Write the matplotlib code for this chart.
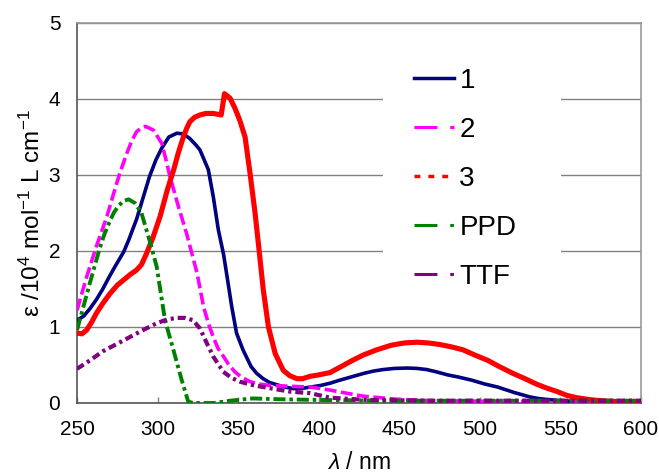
import matplotlib
matplotlib.use("Agg")
import matplotlib.pyplot as plt
from matplotlib.lines import Line2D

plt.rcParams['font.family'] = ['Liberation Sans', 'DejaVu Sans']
plt.rcParams['mathtext.fontset'] = 'custom'
plt.rcParams['mathtext.rm'] = 'Liberation Sans'
plt.rcParams['mathtext.it'] = 'Liberation Sans:italic'
plt.rcParams['mathtext.default'] = 'regular'

# ---- data ----
wl1 = [250, 254, 258, 262, 266, 270, 274, 279, 282, 287,
       291, 295, 299, 302.5, 307, 312, 316, 320, 324, 326.3,
       328.5, 331.5, 334.6, 337.7, 341, 343, 346, 349, 353, 358,
       361.5, 365.5, 369.5, 374, 379, 384, 389, 395, 401, 407,
       413, 418, 423, 428, 434, 440, 447, 455, 461, 467,
       473, 480, 487, 495, 503, 511, 516, 521, 526, 531,
       536, 540, 548, 555, 560, 580, 600]
eps1 = [1.09, 1.14, 1.24, 1.36, 1.50, 1.66, 1.81, 1.99, 2.14, 2.42,
        2.70, 2.98, 3.20, 3.35, 3.50, 3.55, 3.54, 3.48, 3.39, 3.33,
        3.22, 3.07, 2.71, 2.28, 1.95, 1.68, 1.27, 0.92, 0.70, 0.48,
        0.39, 0.32, 0.27, 0.24, 0.21, 0.19, 0.19, 0.21, 0.23, 0.26,
        0.30, 0.33, 0.36, 0.39, 0.42, 0.44, 0.455, 0.46, 0.455, 0.44,
        0.41, 0.37, 0.34, 0.30, 0.25, 0.21, 0.175, 0.14, 0.11, 0.08,
        0.06, 0.05, 0.035, 0.025, 0.02, 0.02, 0.02]

wl2 = [250, 256, 262, 268.5, 272.5, 276.5, 281, 284, 287, 290,
       292.5, 297.5, 302.5, 305, 307.7, 311, 313, 318, 321, 324.5,
       328.5, 331.5, 334.5, 337.5, 341, 344, 348, 352, 357.5, 363,
       370, 382, 395, 407, 417, 427.5, 448, 470, 520, 600]
eps2 = [1.22, 1.66, 2.06, 2.45, 2.74, 3.02, 3.29, 3.45, 3.57, 3.62,
        3.64, 3.59, 3.42, 3.22, 2.98, 2.73, 2.58, 2.23, 1.99, 1.71,
        1.27, 1.05, 0.87, 0.72, 0.61, 0.51, 0.41, 0.34, 0.28, 0.25,
        0.23, 0.22, 0.21, 0.17, 0.13, 0.09, 0.05, 0.03, 0.02, 0.02]

wl3 = [250, 253, 256, 259, 262, 266, 270.5, 275, 279, 283,
       287, 290, 293, 297, 301.5, 306, 310, 313, 316, 318,
       320, 323, 326.3, 330, 334.5, 339.5, 341.5, 345, 348, 351,
       354.3, 357.4, 360.5, 362.8, 365.6, 368.8, 373, 378, 382, 386.5,
       390, 394.5, 400, 407, 414, 420, 427.5, 436, 445, 453,
       461, 468, 475, 482, 489.5, 497, 505, 512, 520.5, 528,
       535, 541, 548, 554, 560, 568, 575, 585, 600]
eps3 = [0.92, 0.91, 0.96, 1.06, 1.18, 1.31, 1.44, 1.55, 1.62, 1.69,
        1.75, 1.82, 1.96, 2.17, 2.45, 2.80, 3.07, 3.30, 3.50, 3.61,
        3.70, 3.76, 3.79, 3.81, 3.81, 3.79, 4.07, 4.01, 3.88, 3.72,
        3.50, 3.02, 2.50, 2.05, 1.49, 1.00, 0.65, 0.43, 0.36, 0.32,
        0.32, 0.35, 0.37, 0.40, 0.48, 0.55, 0.63, 0.70, 0.76, 0.79,
        0.80, 0.79, 0.77, 0.74, 0.70, 0.63, 0.56, 0.48, 0.39, 0.32,
        0.25, 0.20, 0.15, 0.10, 0.07, 0.045, 0.03, 0.02, 0.02]

wl_ppd = [250, 254, 258, 264, 267, 270.5, 273, 276, 279, 282,
          286, 290, 295.3, 299.5, 304.6, 309.8, 315, 319, 322, 335,
          345, 359, 375, 400, 450, 600]
eps_ppd = [0.96, 1.27, 1.58, 2.03, 2.22, 2.40, 2.51, 2.60, 2.66, 2.68,
           2.63, 2.50, 2.12, 1.79, 1.09, 0.70, 0.30, 0.02, 0.0, 0.0,
           0.03, 0.06, 0.05, 0.04, 0.03, 0.03]

wl_ttf = [250, 258, 266, 275, 283, 291, 299.5, 306, 312, 317,
          322, 326.3, 330.5, 334.6, 340.8, 346, 351.2, 358, 365.6, 382,
          394.6, 407, 430, 470, 600]
eps_ttf = [0.45, 0.56, 0.68, 0.78, 0.87, 0.96, 1.05, 1.10, 1.12, 1.12,
           1.09, 0.98, 0.79, 0.61, 0.41, 0.33, 0.28, 0.24, 0.21, 0.15,
           0.13, 0.07, 0.04, 0.03, 0.03]

labels = ['1', '2', '3', 'PPD', 'TTF']
xticks = [250, 300, 350, 400, 450, 500, 550, 600]
yticks = [0, 1, 2, 3, 4, 5]

# ---- figure ----
fig = plt.figure(figsize=(6.59, 4.76), dpi=100)
ax = fig.add_axes([77/659, 73/476, 564/659, 380/476])

c1, c2, c3, c4, c5 = '#000080', '#FF00FF', '#FF0000', '#008000', '#800080'

ax.plot(wl1, eps1, color=c1, lw=2.6, solid_joinstyle='round', zorder=3)
ax.plot(wl2, eps2, color=c2, lw=2.6, linestyle=(0, (3.3, 1.25)), zorder=3)
ax.plot(wl3, eps3, color=c3, lw=3.7, solid_joinstyle='round', zorder=3)
ax.plot(wl_ppd, eps_ppd, color=c4, lw=2.8, linestyle=(0, (3.1, 1.0, 0.9, 1.0)), zorder=3)
ax.plot(wl_ttf, eps_ttf, color=c5, lw=3.0, linestyle=(0, (1.9, 0.95, 0.75, 0.95)), zorder=3)

ax.set_xlim(250, 600)
ax.set_ylim(0, 5)
ax.set_xticks(xticks)
ax.set_yticks(yticks)
ax.tick_params(axis='x', direction='in', length=4, width=1, color='#808080',
               labelsize=15, pad=12)
ax.tick_params(axis='y', length=0, labelsize=15, pad=12)

ax.yaxis.grid(True, color='#808080', lw=1)
ax.set_axisbelow(True)

for s in ['left', 'bottom']:
    ax.spines[s].set_color('#555555')
    ax.spines[s].set_linewidth(1.2)
for s in ['top', 'right']:
    ax.spines[s].set_color('#999999')
    ax.spines[s].set_linewidth(1.2)

ax.set_ylabel('ε /10$^{4}$ mol$^{-1}$ L cm$^{-1}$', fontsize=17.5, labelpad=3)
ax.set_xlabel('$\\mathit{\\lambda}$ / nm', fontsize=16.5, labelpad=9)

handles = [
    Line2D([], [], color=c1, lw=2.5),
    Line2D([], [], color=c2, lw=2.2, linestyle=(0, (7.5, 4.2))),
    Line2D([], [], color=c3, lw=2.5, linestyle=(0, (1.7, 2.3))),
    Line2D([], [], color=c4, lw=2.2, linestyle=(0, (7.5, 4.2, 1.2, 4.2))),
    Line2D([], [], color=c5, lw=2.2, linestyle=(0, (7.5, 4.2, 1.2, 4.2))),
]
leg = ax.legend(handles, labels, loc='upper left',
                bbox_to_anchor=(306/564, 366/380, 178/564, 0),
                mode='expand', borderaxespad=0, borderpad=1.1,
                fontsize=20, handlelength=1.45, handletextpad=0.2,
                labelspacing=0.83, frameon=True, fancybox=False,
                edgecolor='none', facecolor='white', framealpha=1)
leg.set_zorder(2.2)

fig.savefig('out.png', dpi=100)
